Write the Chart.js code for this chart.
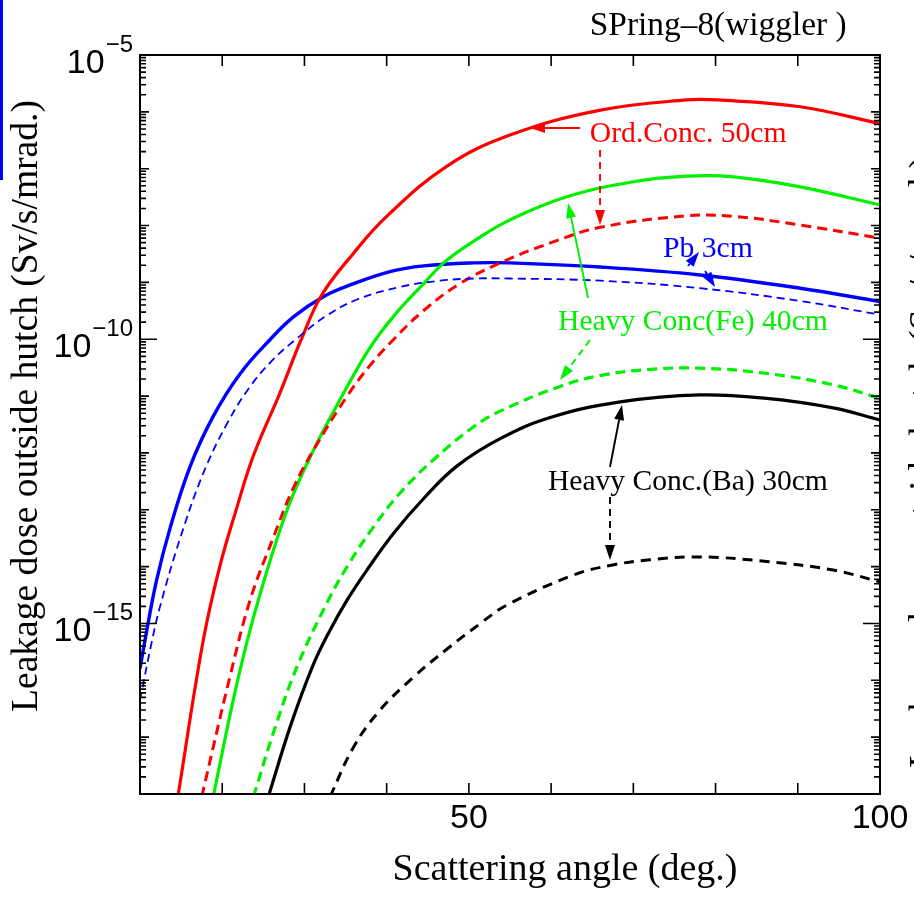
<!DOCTYPE html>
<html><head><meta charset="utf-8">
<script src="https://cdn.jsdelivr.net/npm/chart.js@4/dist/chart.umd.min.js"></script>
<style>html,body{margin:0;padding:0;background:#fff;} canvas{display:block;}</style>
</head><body>
<canvas id="c" width="914" height="899"></canvas>
<script>
// ---------- data (scattering angle in degrees, dose in Sv/s/mrad) ----------
const ordConcSolidX = [14.6, 17.7, 19.7, 21.8, 23.8, 27.0, 29.6, 32.1, 36.0, 40.0, 47.3, 55.0, 66.0, 76.5, 80.2, 90.3, 100];
const ordConcSolidY = [8.9e-19, 5.1e-16, 1.0e-14, 1.12e-13, 9.0e-13, 1.12e-11, 9.8e-11, 6.0e-10, 3.3e-9, 1.45e-8, 1.1e-7, 3.9e-7, 1.07e-6, 1.62e-6, 1.62e-6, 1.23e-6, 6.2e-7];

const ordConcDashX = [17.5, 21.0, 23.4, 26.2, 28.7, 31.5, 35.2, 38.0, 40.8, 44.5, 48.9, 53.8, 60.0, 66.0, 76.5, 82.2, 90.3, 100];
const ordConcDashY = [8.9e-19, 1.26e-16, 2.6e-15, 3.2e-14, 2.5e-13, 1.41e-12, 1.0e-11, 3.5e-11, 9.8e-11, 3.2e-10, 9.5e-10, 2.2e-9, 5.0e-9, 9.3e-9, 1.48e-8, 1.45e-8, 1.02e-8, 6.0e-9];

const feSolidX = [18.9, 21.8, 24.4, 27.9, 31.1, 34.3, 37.8, 40.8, 44.5, 47.3, 51.4, 55.0, 61.9, 70.0, 76.5, 82.2, 90.3, 100];
const feSolidY = [8.9e-19, 8.9e-17, 2.6e-15, 1.0e-13, 1.12e-12, 8.5e-12, 6.5e-11, 2.5e-10, 9.5e-10, 2.45e-9, 6.3e-9, 1.26e-8, 3.2e-8, 5.9e-8, 7.4e-8, 7.2e-8, 4.8e-8, 2.3e-8];

const feDashX = [23.8, 26.2, 29.1, 32.7, 35.2, 38.4, 41.6, 45.7, 50.6, 54.0, 61.1, 66.0, 72.0, 78.1, 86.2, 94.3, 100];
const feDashY = [8.9e-19, 1.17e-17, 1.74e-16, 2.24e-15, 1.0e-14, 5.0e-14, 1.95e-13, 7.6e-13, 2.9e-12, 5.6e-12, 1.48e-11, 2.3e-11, 2.95e-11, 3.1e-11, 2.5e-11, 1.58e-11, 9.1e-12];

const pbSolidX = [10, 10.6, 12.0, 13.7, 16.1, 18.9, 22.2, 25.8, 28.7, 32.3, 36.0, 40.4, 44.5, 50.6, 55.0, 66.0, 78.1, 90.3, 100];
const pbSolidY = [1.6e-16, 5.0e-16, 5.6e-15, 5.0e-14, 5.8e-13, 4.4e-12, 2.5e-11, 9.8e-11, 2.5e-10, 5.6e-10, 9.5e-10, 1.55e-9, 1.95e-9, 2.2e-9, 2.2e-9, 1.86e-9, 1.35e-9, 7.9e-10, 4.6e-10];

const pbDashX = [10, 11.4, 12.4, 14.9, 17.7, 20.6, 23.4, 26.2, 28.9, 32.7, 36.4, 41.6, 46.5, 50.6, 55.0, 66.0, 78.1, 90.3, 100];
const pbDashY = [4.5e-17, 4.5e-16, 1.9e-15, 3.2e-14, 4.4e-13, 3.3e-12, 1.48e-11, 4.4e-11, 9.8e-11, 2.6e-10, 5.0e-10, 8.3e-10, 1.07e-9, 1.17e-9, 1.17e-9, 1.07e-9, 7.9e-10, 4.7e-10, 2.7e-10];

const baSolidX = [25.6, 28.3, 31.0, 33.0, 35.2, 37.6, 40.8, 44.5, 48.5, 53.8, 59.9, 68.4, 78.1, 86.2, 94.3, 100];
const baSolidY = [8.9e-19, 1.58e-17, 1.78e-16, 7.1e-16, 2.6e-15, 8.7e-15, 3.8e-14, 1.58e-13, 5.8e-13, 1.78e-12, 4.2e-12, 7.9e-12, 1.05e-11, 9.1e-12, 6.2e-12, 3.8e-12];

const baDashX = [33.1, 36.0, 39.2, 43.3, 47.7, 51.4, 54.6, 62.7, 67.2, 72.0, 78.1, 86.2, 94.3, 100];
const baDashY = [8.9e-19, 6.8e-18, 3.0e-17, 1.15e-16, 3.9e-16, 1.0e-15, 2.1e-15, 7.1e-15, 1.05e-14, 1.32e-14, 1.48e-14, 1.23e-14, 8.7e-15, 5.4e-15];

// tick values
const xMajorTicks = [10, 20, 30, 40, 50, 60, 70, 80, 90, 100];
const xTickLabels = [50, 100];
const yDecades = [-18, -17, -16, -15, -14, -13, -12, -11, -10, -9, -8, -7, -6, -5];
const yLabelExponents = [-5, -10, -15];

// ---------- text ----------
const xTitle = 'Scattering angle (deg.)';
const yTitle = 'Leakage dose outside hutch (Sv/s/mrad.)';
const topTitle = 'SPring\u20138(wiggler )';

const SERIF = '"Liberation Serif", "Times New Roman", Times, serif';
const SANS = '"Liberation Sans", Arial, Helvetica, sans-serif';
const GREEN = '#00f000';

// annotation layout (data coordinates: x in degrees, e = log10 of dose)
const notes = [
  {text: topTitle, x: 64.7, e: -4.648, w: 257, color: '#000'},
  {text: 'Ord.Conc. 50cm', x: 64.7, e: -6.53, w: 197, color: '#ff0000'},
  {text: 'Pb 3cm', x: 73.6, e: -8.553, w: 90, color: '#0000ff'},
  {text: 'Heavy Conc(Fe) 40cm', x: 60.84, e: -9.837, w: 270, color: GREEN},
  {text: 'Heavy Conc.(Ba) 30cm', x: 59.62, e: -12.652, w: 280, color: '#000'}
];
const arrows = [
  {x1: 63.5, e1: -6.284, x2: 57.43, e2: -6.284, color: '#ff0000', dash: false},
  {x1: 65.95, e1: -6.671, x2: 65.95, e2: -7.99, color: '#ff0000', dash: true},
  {x1: 64.49, e1: -9.274, x2: 62.06, e2: -7.603, color: GREEN, dash: false},
  {x1: 64.73, e1: -10.013, x2: 61.08, e2: -10.717, color: GREEN, dash: true},
  {x1: 67.16, e1: -12.247, x2: 68.62, e2: -11.157, color: '#000', dash: false},
  {x1: 67.16, e1: -12.775, x2: 67.16, e2: -13.883, color: '#000', dash: true},
  {x1: 76.65, e1: -8.712, x2: 77.99, e2: -8.465, color: '#0000ff', dash: false},
  {x1: 78.72, e1: -8.800, x2: 79.94, e2: -9.081, color: '#0000ff', dash: false}
];

function pts(xs, ys) { return xs.map((x, i) => ({x: x, y: ys[i]})); }
function ds(label, xs, ys, color, width, dash) {
  return {label: label, data: pts(xs, ys), borderColor: color, backgroundColor: color,
    borderWidth: width, borderDash: dash, pointRadius: 0, fill: false,
    tension: 0.4, borderCapStyle: 'butt', borderJoinStyle: 'round'};
}

const datasets = [
  ds('Pb 3cm (dashed)', pbDashX, pbDashY, '#0000ff', 1.8, [8, 5]),
  ds('Heavy Conc.(Ba) 30cm (dashed)', baDashX, baDashY, '#000000', 3, [10, 7]),
  ds('Heavy Conc(Fe) 40cm (dashed)', feDashX, feDashY, GREEN, 3.2, [10, 6]),
  ds('Ord.Conc. 50cm (dashed)', ordConcDashX, ordConcDashY, '#ff0000', 3, [10, 6]),
  ds('Heavy Conc.(Ba) 30cm', baSolidX, baSolidY, '#000000', 3.2, []),
  ds('Heavy Conc(Fe) 40cm', feSolidX, feSolidY, GREEN, 3.2, []),
  ds('Ord.Conc. 50cm', ordConcSolidX, ordConcSolidY, '#ff0000', 3.2, []),
  ds('Pb 3cm', pbSolidX, pbSolidY, '#0000ff', 3.4, [])
];

function fitSize(ctx, text, family, width) {
  ctx.font = '100px ' + family;
  return 100 * width / ctx.measureText(text).width;
}

function drawArrow(ctx, x1, y1, x2, y2, color, dash) {
  const ang = Math.atan2(y2 - y1, x2 - x1);
  const L = 15, H = 5;
  const bx = x2 - L * Math.cos(ang), by = y2 - L * Math.sin(ang);
  ctx.save();
  ctx.strokeStyle = color; ctx.fillStyle = color; ctx.lineWidth = 1.9;
  ctx.setLineDash(dash ? [7, 5] : []);
  ctx.beginPath(); ctx.moveTo(x1, y1); ctx.lineTo(bx, by); ctx.stroke();
  ctx.setLineDash([]);
  ctx.beginPath();
  ctx.moveTo(x2, y2);
  ctx.lineTo(bx + H * Math.sin(ang), by - H * Math.cos(ang));
  ctx.lineTo(bx - H * Math.sin(ang), by + H * Math.cos(ang));
  ctx.closePath(); ctx.fill();
  ctx.restore();
}

const decor = {
  id: 'decor',
  afterDatasetsDraw(chart) {
    const ctx = chart.ctx, a = chart.chartArea;
    const sx = chart.scales.x, sy = chart.scales.y;
    const X = v => sx.getPixelForValue(v);
    const Y = e => sy.getPixelForValue(Math.pow(10, e));
    ctx.save();
    // frame
    ctx.strokeStyle = '#000'; ctx.lineWidth = 2;
    ctx.strokeRect(a.left, a.top, a.right - a.left, a.bottom - a.top);
    // x ticks (inward, top and bottom)
    ctx.lineWidth = 1.6;
    ctx.beginPath();
    xMajorTicks.forEach(v => {
      const px = X(v);
      ctx.moveTo(px, a.bottom); ctx.lineTo(px, a.bottom - 11);
      ctx.moveTo(px, a.top); ctx.lineTo(px, a.top + 11);
    });
    // y ticks (inward, left and right)
    yDecades.forEach(d => {
      const long = yLabelExponents.indexOf(d) >= 0 ? 17 : 9;
      const py = Y(d);
      ctx.moveTo(a.left, py); ctx.lineTo(a.left + long, py);
      ctx.moveTo(a.right, py); ctx.lineTo(a.right - long, py);
      if (d < -5) {
        for (let m = 2; m <= 9; m++) {
          const pm = Y(d + Math.log10(m));
          ctx.moveTo(a.left, pm); ctx.lineTo(a.left + 6, pm);
          ctx.moveTo(a.right, pm); ctx.lineTo(a.right - 6, pm);
        }
      }
    });
    ctx.stroke();
    // y tick labels 10^n
    ctx.fillStyle = '#000';
    ctx.textAlign = 'right'; ctx.textBaseline = 'alphabetic';
    yLabelExponents.forEach(e => {
      const py = Y(e);
      const sup = '\u2212' + Math.abs(e);
      ctx.font = '24px ' + SANS;
      ctx.fillText(sup, a.left - 7, py - 3);
      const w = ctx.measureText(sup).width;
      ctx.font = '34px ' + SANS;
      ctx.fillText('10', a.left - 7 - w - 1, py + 18);
    });
    // x tick labels
    ctx.textAlign = 'center';
    ctx.font = '34px ' + SANS;
    xTickLabels.forEach(v => ctx.fillText(String(v), X(v), a.bottom + 34));
    // x title
    ctx.font = fitSize(ctx, xTitle, SERIF, 345) + 'px ' + SERIF;
    ctx.fillText(xTitle, a.left + 425, a.bottom + 86);
    // y title (left)
    const ys = fitSize(ctx, yTitle, SERIF, 612);
    ctx.save();
    ctx.translate(37, a.top + 351);
    ctx.rotate(-Math.PI / 2);
    ctx.font = ys + 'px ' + SERIF;
    ctx.textAlign = 'center';
    ctx.fillText(yTitle, 0, 0);
    ctx.restore();
    // y title (right, mostly outside the page)
    ctx.save();
    ctx.translate(a.right + 26, a.top + 407);
    ctx.rotate(-Math.PI / 2);
    ctx.font = ys + 'px ' + SERIF;
    ctx.textAlign = 'center'; ctx.textBaseline = 'top';
    ctx.fillText(yTitle, 0, 0);
    ctx.restore();
    // annotations
    ctx.textAlign = 'left'; ctx.textBaseline = 'alphabetic';
    notes.forEach(n => {
      ctx.fillStyle = n.color;
      ctx.font = fitSize(ctx, n.text, SERIF, n.w) + 'px ' + SERIF;
      ctx.fillText(n.text, X(n.x), Y(n.e));
    });
    arrows.forEach(r => drawArrow(ctx, X(r.x1), Y(r.e1), X(r.x2), Y(r.e2), r.color, r.dash));
    // blue edge line at the far left of the page
    ctx.strokeStyle = '#0000ff'; ctx.lineWidth = 3;
    ctx.beginPath(); ctx.moveTo(1.5, 0); ctx.lineTo(1.5, a.top + 125); ctx.stroke();
    ctx.restore();
  }
};

new Chart(document.getElementById('c'), {
  type: 'line',
  data: {datasets: datasets},
  options: {
    responsive: false,
    animation: false,
    devicePixelRatio: 1,
    layout: {padding: {left: 140, top: 55, right: 34, bottom: 105}},
    plugins: {legend: {display: false}, tooltip: {enabled: false}},
    scales: {
      x: {type: 'linear', min: 10, max: 100, display: false},
      y: {type: 'logarithmic', min: 1e-18, max: 1e-5, display: false}
    }
  },
  plugins: [decor]
});
</script>
</body></html>
